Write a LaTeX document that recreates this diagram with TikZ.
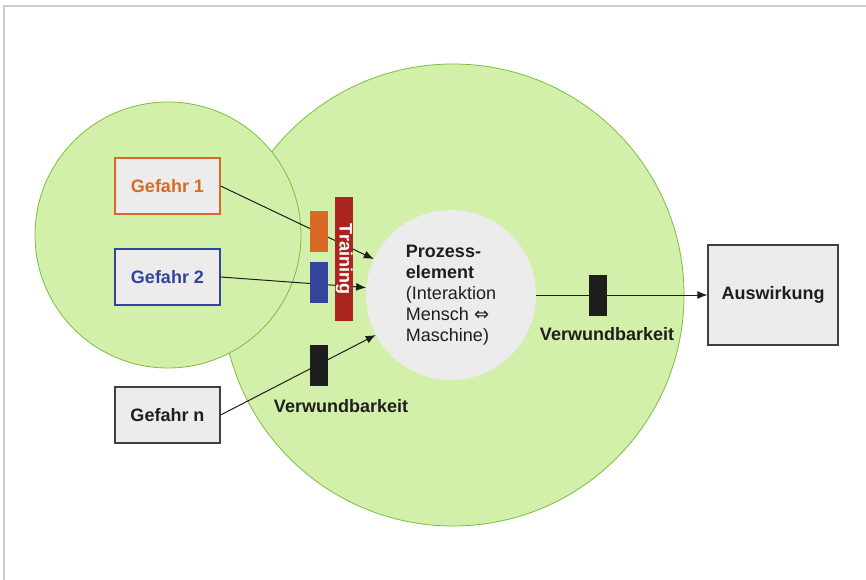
\documentclass[tikz,border=0pt]{standalone}
\usepackage{fontspec}
\setmainfont{Liberation Sans}
\newfontfamily\arrowfont{DejaVu Sans}
\usetikzlibrary{arrows.meta}
\usetikzlibrary{positioning}

\definecolor{zonegreen}{RGB}{211,240,170}
\definecolor{zoneline}{RGB}{122,190,62}
\definecolor{boxgray}{RGB}{236,236,236}
\definecolor{hazardorange}{RGB}{217,106,38}
\definecolor{hazardblue}{RGB}{50,68,156}
\definecolor{trainred}{RGB}{170,36,32}
\definecolor{darktext}{RGB}{30,30,30}

\tikzset{
  zone/.style={circle,draw=zoneline,fill=zonegreen,line width=0.8pt,inner sep=0pt},
  hazard/.style={rectangle,minimum width=105pt,minimum height=56pt,inner sep=0pt,fill=boxgray,line width=1.2pt,font=\bfseries\fontsize{18pt}{21pt}\selectfont},
  barrier/.style={rectangle,minimum width=18pt,minimum height=41pt,inner sep=0pt},
  link/.style={draw=darktext,line width=1pt,-{Latex[length=10pt,width=8pt]}},
  weaklabel/.style={text=darktext,font=\bfseries\fontsize{18pt}{21pt}\selectfont}
}

\begin{document}
\begin{tikzpicture}[x=1pt,y=-1pt]
\useasboundingbox (0,0) rectangle (866,580);
\draw[black!20,line width=1.5pt] (4,580) -- (4,6) -- (866,6);
% areas
\node at (453,295)[zone,minimum size=462pt](big){};
\node at (168,235)[zone,minimum size=266pt](small){};
\node at (451,295)[circle,fill=boxgray,minimum size=170pt,inner sep=0pt,align=left,text=darktext,font=\fontsize{18pt}{21pt}\selectfont](P){\textbf{Prozess-}\\\textbf{element}\\(Interaktion\\Mensch {\arrowfont ⇔}\\Maschine)};
% hazards and impact
\node at (167.5,186)[hazard,draw=hazardorange,text=hazardorange](G1){Gefahr 1};
\node at (167.5,277)[hazard,draw=hazardblue,text=hazardblue](G2){Gefahr 2};
\node at (167.5,415)[hazard,draw=black!75,text=darktext](Gn){Gefahr n};
\node at (773,295)[hazard,draw=black!75,text=darktext,minimum width=130pt,minimum height=100pt](A){Auswirkung};
% connectors
\draw[link] (G1.east) -- (P.155);
\draw[link] (G2.east) -- (P.175);
\draw[link] (Gn.east) -- (P.208);
\draw[link] (P.east) -- (A.west);
% barriers
\node at (319,231.5)[barrier,fill=hazardorange](b1){};
\node at (319,282.5)[barrier,fill=hazardblue](b2){};
\node at (344,259)[rectangle,fill=trainred,minimum width=124pt,minimum height=18pt,inner sep=0pt,text height=13pt,text depth=4pt,rotate=-90,text=white,font=\bfseries\fontsize{18pt}{21pt}\selectfont](T){Training};
\node at (319,365.5)[barrier,fill=darktext](b3){};
\node at (598,295.5)[barrier,fill=darktext](b4){};
\node at (341,406)[weaklabel](v1){Verwundbarkeit};
\node at (607,334)[weaklabel](v2){Verwundbarkeit};
\end{tikzpicture}
\end{document}
